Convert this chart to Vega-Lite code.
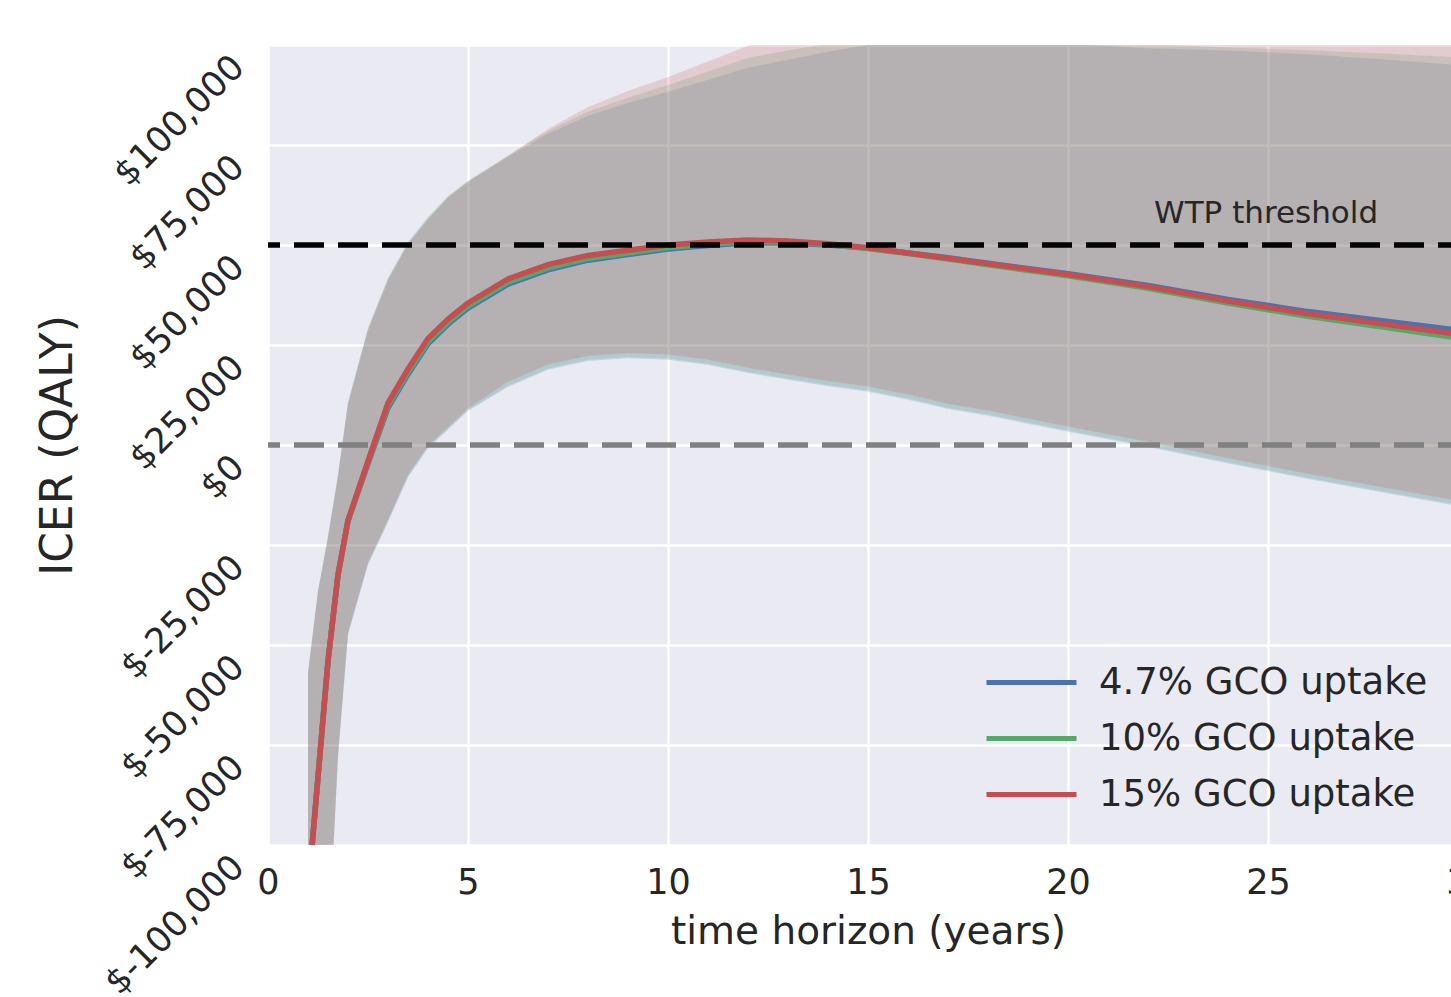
{
  "$schema": "https://vega.github.io/schema/vega-lite/v6.json",
  "autosize": {"type": "none"},
  "padding": {"left": 268, "top": 45, "right": -17, "bottom": 152},
  "width": 1200,
  "height": 800,
  "background": "white",
  "config": {
    "font": "DejaVu Sans",
    "view": {"fill": "#EAEAF2", "stroke": null},
    "axis": {
      "domain": false, "ticks": false, "grid": true, "gridColor": "#FFFFFF", "gridWidth": 2.5,
      "labelColor": "#262626", "titleColor": "#262626", "titleFontWeight": "normal",
      "labelFont": "DejaVu Sans", "titleFont": "DejaVu Sans", "labelOverlap": false, "labelFlush": false, "labelBound": false
    }
  },
  "datasets": {
    "d": [
      {"year": 1, "series": "4.7% GCO uptake", "icer": -112000, "lo": -230000, "hi": -57000},
      {"year": 1.25, "series": "4.7% GCO uptake", "icer": -83000, "lo": -175000, "hi": -36500},
      {"year": 1.5, "series": "4.7% GCO uptake", "icer": -54000, "lo": -128000, "hi": -23000},
      {"year": 1.75, "series": "4.7% GCO uptake", "icer": -32500, "lo": -78000, "hi": -7500},
      {"year": 2, "series": "4.7% GCO uptake", "icer": -19000, "lo": -47500, "hi": 10500},
      {"year": 2.5, "series": "4.7% GCO uptake", "icer": -4600, "lo": -30000, "hi": 29000},
      {"year": 3, "series": "4.7% GCO uptake", "icer": 9300, "lo": -19300, "hi": 41500},
      {"year": 3.5, "series": "4.7% GCO uptake", "icer": 17700, "lo": -8100, "hi": 50500},
      {"year": 4, "series": "4.7% GCO uptake", "icer": 25300, "lo": -800, "hi": 56700},
      {"year": 4.5, "series": "4.7% GCO uptake", "icer": 30200, "lo": 3800, "hi": 62000},
      {"year": 5, "series": "4.7% GCO uptake", "icer": 34200, "lo": 8500, "hi": 65800},
      {"year": 6, "series": "4.7% GCO uptake", "icer": 40200, "lo": 14500, "hi": 72000},
      {"year": 7, "series": "4.7% GCO uptake", "icer": 43800, "lo": 18800, "hi": 77800},
      {"year": 8, "series": "4.7% GCO uptake", "icer": 46200, "lo": 21000, "hi": 82300},
      {"year": 9, "series": "4.7% GCO uptake", "icer": 47600, "lo": 21700, "hi": 85500},
      {"year": 10, "series": "4.7% GCO uptake", "icer": 49000, "lo": 21300, "hi": 88300},
      {"year": 11, "series": "4.7% GCO uptake", "icer": 49850, "lo": 20000, "hi": 91300},
      {"year": 12, "series": "4.7% GCO uptake", "icer": 50550, "lo": 18000, "hi": 94300},
      {"year": 13, "series": "4.7% GCO uptake", "icer": 50500, "lo": 16300, "hi": 96300},
      {"year": 14, "series": "4.7% GCO uptake", "icer": 50000, "lo": 14700, "hi": 98300},
      {"year": 15, "series": "4.7% GCO uptake", "icer": 49200, "lo": 13300, "hi": 100000},
      {"year": 16, "series": "4.7% GCO uptake", "icer": 48000, "lo": 11300, "hi": 101000},
      {"year": 17, "series": "4.7% GCO uptake", "icer": 46800, "lo": 9000, "hi": 101500},
      {"year": 18, "series": "4.7% GCO uptake", "icer": 45450, "lo": 7300, "hi": 101500},
      {"year": 20, "series": "4.7% GCO uptake", "icer": 42800, "lo": 3300, "hi": 100300},
      {"year": 22, "series": "4.7% GCO uptake", "icer": 39900, "lo": -500, "hi": 99200},
      {"year": 24, "series": "4.7% GCO uptake", "icer": 36400, "lo": -4600, "hi": 98600},
      {"year": 26, "series": "4.7% GCO uptake", "icer": 33350, "lo": -8500, "hi": 97700},
      {"year": 28, "series": "4.7% GCO uptake", "icer": 30850, "lo": -12100, "hi": 96300},
      {"year": 30, "series": "4.7% GCO uptake", "icer": 28400, "lo": -15700, "hi": 94800},

      {"year": 1, "series": "10% GCO uptake", "icer": -112000, "lo": -229700, "hi": -56700},
      {"year": 1.25, "series": "10% GCO uptake", "icer": -83000, "lo": -174700, "hi": -36200},
      {"year": 1.5, "series": "10% GCO uptake", "icer": -54000, "lo": -127700, "hi": -22700},
      {"year": 1.75, "series": "10% GCO uptake", "icer": -32500, "lo": -77700, "hi": -7200},
      {"year": 2, "series": "10% GCO uptake", "icer": -18900, "lo": -47200, "hi": 10800},
      {"year": 2.5, "series": "10% GCO uptake", "icer": -4300, "lo": -29700, "hi": 29300},
      {"year": 3, "series": "10% GCO uptake", "icer": 9800, "lo": -19000, "hi": 41800},
      {"year": 3.5, "series": "10% GCO uptake", "icer": 18200, "lo": -7800, "hi": 50800},
      {"year": 4, "series": "10% GCO uptake", "icer": 25800, "lo": -500, "hi": 57000},
      {"year": 4.5, "series": "10% GCO uptake", "icer": 30700, "lo": 4100, "hi": 62300},
      {"year": 5, "series": "10% GCO uptake", "icer": 34700, "lo": 8800, "hi": 66100},
      {"year": 6, "series": "10% GCO uptake", "icer": 40700, "lo": 14800, "hi": 72400},
      {"year": 7, "series": "10% GCO uptake", "icer": 44300, "lo": 19100, "hi": 78500},
      {"year": 8, "series": "10% GCO uptake", "icer": 46650, "lo": 21300, "hi": 83300},
      {"year": 9, "series": "10% GCO uptake", "icer": 48000, "lo": 22000, "hi": 86800},
      {"year": 10, "series": "10% GCO uptake", "icer": 49350, "lo": 21600, "hi": 90000},
      {"year": 11, "series": "10% GCO uptake", "icer": 50200, "lo": 20300, "hi": 93400},
      {"year": 12, "series": "10% GCO uptake", "icer": 50850, "lo": 18300, "hi": 96800},
      {"year": 13, "series": "10% GCO uptake", "icer": 50700, "lo": 16600, "hi": 98600},
      {"year": 14, "series": "10% GCO uptake", "icer": 50100, "lo": 15000, "hi": 100300},
      {"year": 15, "series": "10% GCO uptake", "icer": 49150, "lo": 13600, "hi": 101500},
      {"year": 16, "series": "10% GCO uptake", "icer": 47850, "lo": 11600, "hi": 102500},
      {"year": 17, "series": "10% GCO uptake", "icer": 46500, "lo": 9300, "hi": 103000},
      {"year": 18, "series": "10% GCO uptake", "icer": 45050, "lo": 7600, "hi": 103000},
      {"year": 20, "series": "10% GCO uptake", "icer": 42300, "lo": 3600, "hi": 101500},
      {"year": 22, "series": "10% GCO uptake", "icer": 39200, "lo": -200, "hi": 100200},
      {"year": 24, "series": "10% GCO uptake", "icer": 35500, "lo": -4300, "hi": 99400},
      {"year": 26, "series": "10% GCO uptake", "icer": 32150, "lo": -8200, "hi": 98700},
      {"year": 28, "series": "10% GCO uptake", "icer": 29300, "lo": -11800, "hi": 97800},
      {"year": 30, "series": "10% GCO uptake", "icer": 26400, "lo": -15400, "hi": 96800},

      {"year": 1, "series": "15% GCO uptake", "icer": -112000, "lo": -229300, "hi": -57300},
      {"year": 1.25, "series": "15% GCO uptake", "icer": -83000, "lo": -174300, "hi": -36800},
      {"year": 1.5, "series": "15% GCO uptake", "icer": -54000, "lo": -127300, "hi": -23300},
      {"year": 1.75, "series": "15% GCO uptake", "icer": -32500, "lo": -77300, "hi": -7800},
      {"year": 2, "series": "15% GCO uptake", "icer": -18800, "lo": -46800, "hi": 10200},
      {"year": 2.5, "series": "15% GCO uptake", "icer": -4000, "lo": -29300, "hi": 28700},
      {"year": 3, "series": "15% GCO uptake", "icer": 10500, "lo": -18600, "hi": 41200},
      {"year": 3.5, "series": "15% GCO uptake", "icer": 19000, "lo": -7400, "hi": 50200},
      {"year": 4, "series": "15% GCO uptake", "icer": 26600, "lo": -100, "hi": 56400},
      {"year": 4.5, "series": "15% GCO uptake", "icer": 31500, "lo": 4500, "hi": 61850},
      {"year": 5, "series": "15% GCO uptake", "icer": 35500, "lo": 9200, "hi": 65800},
      {"year": 6, "series": "15% GCO uptake", "icer": 41500, "lo": 15800, "hi": 72300},
      {"year": 7, "series": "15% GCO uptake", "icer": 45100, "lo": 20100, "hi": 79000},
      {"year": 8, "series": "15% GCO uptake", "icer": 47400, "lo": 22300, "hi": 84500},
      {"year": 9, "series": "15% GCO uptake", "icer": 48700, "lo": 23000, "hi": 88500},
      {"year": 10, "series": "15% GCO uptake", "icer": 50000, "lo": 22600, "hi": 92000},
      {"year": 11, "series": "15% GCO uptake", "icer": 50750, "lo": 21300, "hi": 95900},
      {"year": 12, "series": "15% GCO uptake", "icer": 51250, "lo": 19300, "hi": 99800},
      {"year": 13, "series": "15% GCO uptake", "icer": 51000, "lo": 17600, "hi": 101800},
      {"year": 14, "series": "15% GCO uptake", "icer": 50300, "lo": 16000, "hi": 103300},
      {"year": 15, "series": "15% GCO uptake", "icer": 49300, "lo": 14600, "hi": 104800},
      {"year": 16, "series": "15% GCO uptake", "icer": 48000, "lo": 12600, "hi": 105500},
      {"year": 17, "series": "15% GCO uptake", "icer": 46700, "lo": 10300, "hi": 106000},
      {"year": 18, "series": "15% GCO uptake", "icer": 45300, "lo": 8600, "hi": 106000},
      {"year": 20, "series": "15% GCO uptake", "icer": 42600, "lo": 4600, "hi": 104800},
      {"year": 22, "series": "15% GCO uptake", "icer": 39600, "lo": 800, "hi": 103700},
      {"year": 24, "series": "15% GCO uptake", "icer": 36000, "lo": -3300, "hi": 103400},
      {"year": 26, "series": "15% GCO uptake", "icer": 32800, "lo": -7200, "hi": 102900},
      {"year": 28, "series": "15% GCO uptake", "icer": 30100, "lo": -10800, "hi": 101900},
      {"year": 30, "series": "15% GCO uptake", "icer": 27400, "lo": -14400, "hi": 100800}
    ]
  },
  "encoding": {
    "x": {
      "field": "year", "type": "quantitative",
      "scale": {"domain": [0, 30], "nice": false, "zero": false},
      "axis": {
        "title": "time horizon (years)", "values": [0, 5, 10, 15, 20, 25, 30],
        "labelFontSize": 35, "labelPadding": 20, "labelAngle": 0,
        "titleFontSize": 39, "titlePadding": 12
      }
    }
  },
  "layer": [
    {
      "data": {"name": "d"},
      "transform": [{"filter": "datum.series === '4.7% GCO uptake'"}],
      "mark": {"type": "area", "color": "#4C72B0", "opacity": 0.2, "clip": true},
      "encoding": {
        "y": {
          "field": "lo", "type": "quantitative", "title": "ICER (QALY)",
          "scale": {"domain": [-100000, 100000], "nice": false, "zero": false},
          "axis": {
            "values": [-100000, -75000, -50000, -25000, 0, 25000, 50000, 75000, 100000],
            "labelExpr": "(datum.value < 0 ? '$-' : '$') + format(abs(datum.value), ',')",
            "labelAngle": -45, "labelAlign": "right", "labelBaseline": "top",
            "labelFontSize": 35, "labelPadding": 42, "labelOffset": 4,
            "titleFontSize": 44, "titlePadding": 18
          }
        },
        "y2": {"field": "hi"}
      }
    },
    {
      "data": {"name": "d"},
      "transform": [{"filter": "datum.series === '10% GCO uptake'"}],
      "mark": {"type": "area", "color": "#55A868", "opacity": 0.2, "clip": true},
      "encoding": {
        "y": {"field": "lo", "type": "quantitative", "title": "ICER (QALY)"},
        "y2": {"field": "hi"}
      }
    },
    {
      "data": {"name": "d"},
      "transform": [{"filter": "datum.series === '15% GCO uptake'"}],
      "mark": {"type": "area", "color": "#C44E52", "opacity": 0.2, "clip": true},
      "encoding": {
        "y": {"field": "lo", "type": "quantitative", "title": "ICER (QALY)"},
        "y2": {"field": "hi"}
      }
    },
    {
      "data": {"name": "d"},
      "transform": [{"filter": "datum.series === '4.7% GCO uptake'"}],
      "mark": {"type": "line", "strokeWidth": 5.5, "clip": true},
      "encoding": {
        "y": {"field": "icer", "type": "quantitative", "title": "ICER (QALY)"},
        "stroke": {
          "field": "series", "type": "nominal",
          "scale": {
            "domain": ["4.7% GCO uptake", "10% GCO uptake", "15% GCO uptake"],
            "range": ["#4C72B0", "#55A868", "#C44E52"]
          },
          "legend": {
            "orient": "none", "legendX": 726, "legendY": 600, "title": null,
            "symbolType": "M-1.2857,0H1.2857", "symbolSize": 4900, "symbolStrokeWidth": 5,
            "labelFontSize": 37, "labelColor": "#262626", "labelFont": "DejaVu Sans",
            "labelOffset": 30, "rowPadding": 0, "padding": 0, "labelLimit": 0
          }
        }
      }
    },
    {
      "data": {"name": "d"},
      "transform": [{"filter": "datum.series === '10% GCO uptake'"}],
      "mark": {"type": "line", "strokeWidth": 5.5, "clip": true},
      "encoding": {
        "y": {"field": "icer", "type": "quantitative", "title": "ICER (QALY)"},
        "stroke": {"field": "series", "type": "nominal"}
      }
    },
    {
      "data": {"name": "d"},
      "transform": [{"filter": "datum.series === '15% GCO uptake'"}],
      "mark": {"type": "line", "strokeWidth": 5.5, "clip": true},
      "encoding": {
        "y": {"field": "icer", "type": "quantitative", "title": "ICER (QALY)"},
        "stroke": {"field": "series", "type": "nominal"}
      }
    },
    {
      "data": {"values": [{"threshold": 50000}]},
      "mark": {"type": "rule", "color": "#000000", "strokeWidth": 5.5, "strokeDash": [30, 14]},
      "encoding": {
        "x": null,
        "y": {"field": "threshold", "type": "quantitative", "title": "ICER (QALY)"}
      }
    },
    {
      "data": {"values": [{"threshold": 0}]},
      "mark": {"type": "rule", "color": "#808080", "strokeWidth": 5.5, "strokeDash": [30, 14]},
      "encoding": {
        "x": null,
        "y": {"field": "threshold", "type": "quantitative", "title": "ICER (QALY)"}
      }
    },
    {
      "data": {"values": [{"year": 22.15, "value": 55500, "label": "WTP threshold"}]},
      "mark": {"type": "text", "align": "left", "baseline": "alphabetic", "fontSize": 31, "color": "#262626", "font": "DejaVu Sans"},
      "encoding": {
        "y": {"field": "value", "type": "quantitative", "title": "ICER (QALY)"},
        "text": {"field": "label"}
      }
    }
  ]
}
